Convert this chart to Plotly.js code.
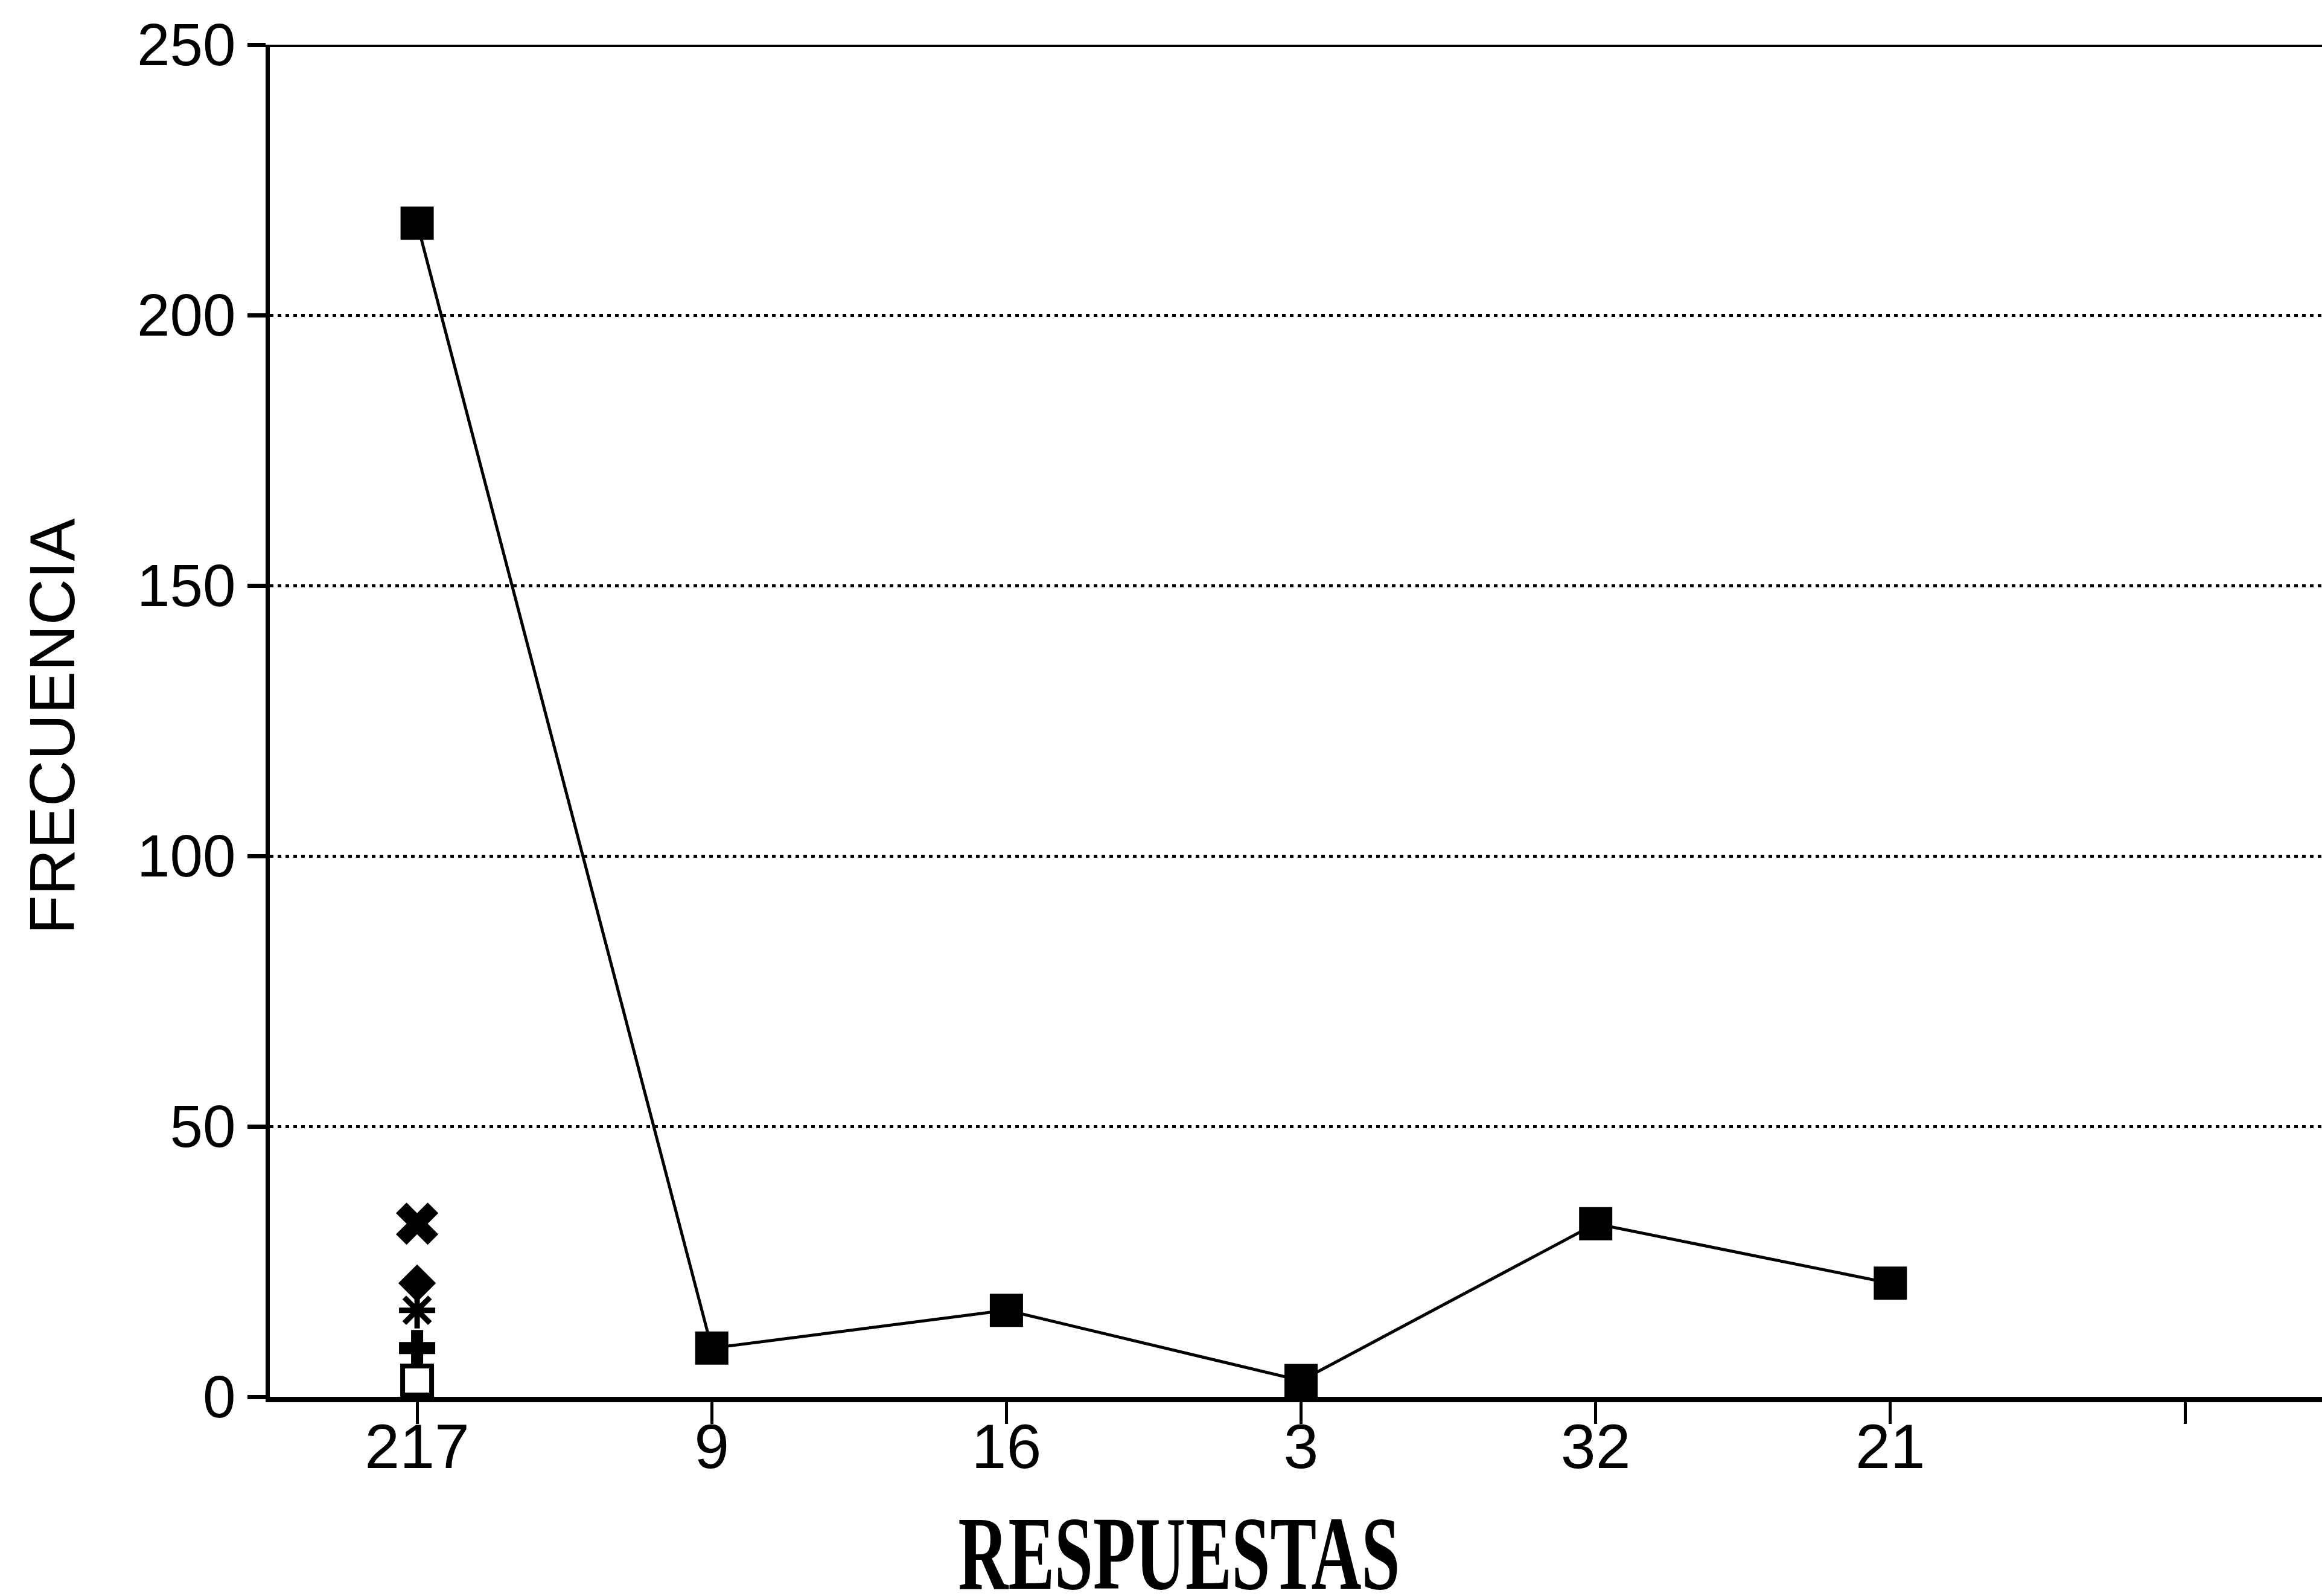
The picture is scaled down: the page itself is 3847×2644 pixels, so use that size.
<!DOCTYPE html>
<html>
<head>
<meta charset="utf-8">
<script src="https://cdn.plot.ly/plotly-3.0.1.min.js"></script>
<style>
  html, body { margin: 0; padding: 0; background: #ffffff; }
  #chart { width: 3847px; height: 2644px; }
</style>
</head>
<body>
<div id="chart"></div>
<script>
// ---- Data ----
const categorias = ['217', '9', '16', '3', '32', '21', ''];
const frecuencia = [217, 9, 16, 3, 32, 21];
// Extra series, only drawn at the first category
const serieCuadroAbierto = [3];
const serieCruz = [9];
const serieAsterisco = [16];
const serieRombo = [21];
const serieEquis = [32];
const yTicks = [0, 50, 100, 150, 200, 250];

const posiciones = categorias.map((_, i) => i);

const traces = [
  {
    x: posiciones.slice(0, frecuencia.length), y: frecuencia,
    type: 'scatter', mode: 'lines+markers',
    line: { color: '#000', width: 5 },
    marker: { symbol: 'square', size: 55, color: '#000' },
    showlegend: false
  },
  {
    x: [posiciones[0]], y: serieCuadroAbierto, type: 'scatter', mode: 'markers',
    marker: { symbol: 'square-open', size: 48, color: '#000', line: { width: 8, color: '#000' } },
    showlegend: false
  },
  {
    x: [posiciones[0]], y: serieCruz, type: 'scatter', mode: 'markers',
    marker: { symbol: 'cross', size: 50, color: '#000' },
    showlegend: false
  },
  {
    x: [posiciones[0]], y: serieAsterisco, type: 'scatter', mode: 'markers',
    marker: { symbol: 'asterisk-open', size: 50, color: '#000', line: { width: 9, color: '#000' } },
    showlegend: false
  },
  {
    x: [posiciones[0]], y: serieRombo, type: 'scatter', mode: 'markers',
    marker: { symbol: 'diamond', size: 48, color: '#000' },
    showlegend: false
  },
  {
    x: [posiciones[0]], y: serieEquis, type: 'scatter', mode: 'markers',
    marker: { symbol: 'x', size: 62, color: '#000' },
    showlegend: false
  }
];

const layout = {
  width: 3847, height: 2644,
  paper_bgcolor: '#ffffff', plot_bgcolor: '#ffffff',
  margin: { l: 447, r: 0, t: 74, b: 330, pad: 0 },
  showlegend: false,
  xaxis: {
    range: [-0.5, 6.465],
    tickmode: 'array', tickvals: posiciones, ticktext: categorias,
    showgrid: false, zeroline: false,
    showline: true, linecolor: '#000', linewidth: 9,
    ticks: 'outside', ticklen: 36, tickwidth: 5, tickcolor: '#000',
    ticklabelstandoff: -52,
    tickfont: { family: '"Liberation Sans Narrow", "Liberation Sans", Arial, sans-serif', size: 104, color: '#000' },
    automargin: false, fixedrange: true
  },
  yaxis: {
    range: [0, 250],
    tickmode: 'array', tickvals: yTicks,
    showgrid: true, gridcolor: '#000', gridwidth: 5, griddash: '6px,7px',
    zeroline: false,
    showline: true, linecolor: '#000', linewidth: 7,
    ticks: 'outside', ticklen: 30, tickwidth: 7, tickcolor: '#000',
    tickfont: { family: '"Liberation Sans", Arial, sans-serif', size: 98, color: '#000' },
    automargin: false, fixedrange: true
  },
  shapes: [
    { type: 'line', xref: 'paper', yref: 'y', x0: 0, x1: 1, y0: 250, y1: 250,
      line: { color: '#000', width: 8 } }
  ],
  annotations: [
    { text: 'FRECUENCIA', xref: 'paper', yref: 'paper', x: -0.1062, y: 0.496,
      xanchor: 'center', yanchor: 'middle', textangle: -90, showarrow: false,
      font: { family: '"Liberation Sans", Arial, sans-serif', size: 106, color: '#000' } },
    { text: '<b>RESPUESTAS</b>', xref: 'paper', yref: 'paper', x: 0.4432, y: -0.116,
      xanchor: 'center', yanchor: 'middle', showarrow: false,
      font: { family: '"Liberation Serif", "Times New Roman", serif', size: 174, color: '#000' } }
  ]
};

Plotly.newPlot('chart', traces, layout, { displayModeBar: false, staticPlot: true }).then(function () {
  // Condense the serif axis title horizontally, as in the reference
  document.querySelectorAll('.annotation-text').forEach(function (t) {
    if (t.textContent.indexOf('RESPUESTAS') >= 0) {
      const bb = t.getBBox();
      const cx = bb.x + bb.width / 2;
      const cy = bb.y + bb.height / 2;
      t.setAttribute('transform', 'translate(' + cx + ',' + cy + ') scale(0.66,1) translate(' + (-cx) + ',' + (-cy) + ')');
    }
  });
});
</script>
</body>
</html>
